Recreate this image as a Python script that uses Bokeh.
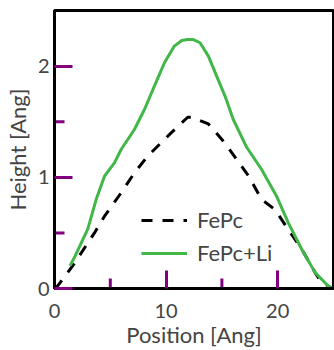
import math
from bokeh.plotting import figure
from bokeh.models import FixedTicker, Range1d, Legend, LegendItem
from bokeh.embed import file_html
from bokeh.resources import INLINE

# FePc (dashed black)
fepc_x = [0.0, 0.3, 1.64, 3.58, 4.48, 5.97, 7.16, 8.35, 8.95, 10.45, 11.94, 12.3,
          13.79, 15.0, 15.9, 17.4, 18.56, 19.75, 20.95, 22.14, 23.34, 23.9, 24.9]
fepc_y = [0.0, 0.025, 0.205, 0.50, 0.65, 0.86, 1.04, 1.19, 1.25, 1.40, 1.54, 1.54,
          1.48, 1.34, 1.22, 1.01, 0.80, 0.71, 0.53, 0.355, 0.145, 0.06, 0.0]

# FePc+Li (solid green)
li_x = [1.40, 1.85, 2.98, 3.73, 4.48, 5.37, 5.97, 7.16, 8.06, 8.95, 9.85, 10.74,
        11.4, 11.93, 12.4, 13.04, 13.79, 14.53, 15.28, 16.02, 17.22, 18.56, 19.9,
        20.95, 22.14, 23.34, 24.5, 24.9]
li_y = [0.205, 0.294, 0.534, 0.80, 1.01, 1.13, 1.25, 1.43, 1.61, 1.82, 2.03, 2.18,
        2.23, 2.24, 2.24, 2.21, 2.09, 1.91, 1.73, 1.52, 1.27, 1.07, 0.83,
        0.59, 0.355, 0.145, 0.025, 0.0]

x_ticks = [0, 10, 20]
x_minor = [5, 15]
y_ticks = [0, 1, 2]
y_minor = [0.5, 1.5]
x_lim = (0, 25)
y_lim = (0, 2.5)

FONT = "Lato"
TICK_FS = "20px"
LABEL_FS = "22px"
GREEN = "#41b649"
TICK_COLOR = "purple"

p = figure(width=334, height=350, output_backend="svg", toolbar_location=None,
           x_range=Range1d(*x_lim), y_range=Range1d(*y_lim),
           min_border_top=10, min_border_right=1, min_border_bottom=0, min_border_left=0)

p.xgrid.visible = False
p.ygrid.visible = False
p.outline_line_color = "black"
p.outline_line_width = 3

r1 = p.line(fepc_x, fepc_y, line_color="black", line_width=3, line_dash="11 10")
r2 = p.line(li_x, li_y, line_color=GREEN, line_width=3)

# minor ticks (inward), drawn from the minor tick lists
p.ray(x=x_minor, y=[y_lim[0]] * len(x_minor), length=10, length_units="screen",
      angle=math.pi / 2, line_color=TICK_COLOR, line_width=3)
p.ray(x=[x_lim[0]] * len(y_minor), y=y_minor, length=10, length_units="screen",
      angle=0, line_color=TICK_COLOR, line_width=3)

for ax in (p.xaxis[0], p.yaxis[0]):
    ax.axis_line_width = 3
    ax.major_tick_in = 18
    ax.major_tick_out = 0
    ax.major_tick_line_color = TICK_COLOR
    ax.major_tick_line_width = 3
    ax.major_label_text_font = FONT
    ax.major_label_text_font_size = TICK_FS
    ax.axis_label_text_font = FONT
    ax.axis_label_text_font_size = LABEL_FS
    ax.axis_label_text_font_style = "normal"

p.xaxis[0].ticker = FixedTicker(ticks=x_ticks, minor_ticks=[])
p.yaxis[0].ticker = FixedTicker(ticks=y_ticks, minor_ticks=[])
p.xaxis[0].axis_label = "Position [Ang]"
p.yaxis[0].axis_label = "Height [Ang]"
p.xaxis[0].major_label_standoff = 15
p.xaxis[0].axis_label_standoff = 0
p.yaxis[0].major_label_standoff = 5
p.yaxis[0].axis_label_standoff = 4

legend = Legend(items=[LegendItem(label="FePc", renderers=[r1]),
                       LegendItem(label="FePc+Li", renderers=[r2])],
                location=(87, 22), border_line_alpha=0, background_fill_alpha=0,
                padding=0, margin=0, spacing=6, glyph_width=46, glyph_height=20,
                label_height=20, label_standoff=10,
                label_text_font=FONT, label_text_font_size=LABEL_FS)
p.add_layout(legend)

open("out.html", "w").write(file_html(p, INLINE))
